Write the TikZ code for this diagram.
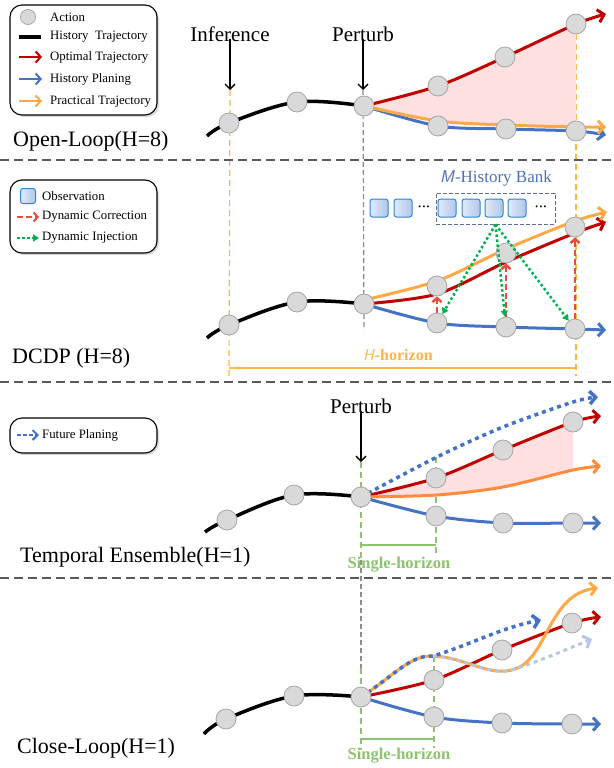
\documentclass[tikz,border=0pt]{standalone}
\usepackage{fontspec}
\setmainfont{Liberation Serif}
\usetikzlibrary{arrows.meta, shadows, backgrounds}

\definecolor{trred}{RGB}{192,0,0}
\definecolor{trblue}{RGB}{68,114,196}
\definecolor{trorange}{RGB}{255,168,70}
\definecolor{teorange}{RGB}{255,140,60}
\definecolor{hzorange}{RGB}{255,180,70}
\definecolor{corred}{RGB}{232,76,61}
\definecolor{injgreen}{RGB}{0,176,80}
\definecolor{hzgreen}{RGB}{140,195,110}
\definecolor{actgray}{RGB}{217,217,217}
\definecolor{bankblue}{RGB}{74,114,184}
\definecolor{bankedge}{RGB}{90,110,150}
\definecolor{obsedge}{RGB}{46,134,204}
\definecolor{obslight}{RGB}{225,234,248}
\definecolor{obsdark}{RGB}{176,198,234}
\definecolor{pinkfill}{RGB}{255,224,224}

\begin{document}
\begin{tikzpicture}[x=1pt, y=-1pt,
 act/.style={circle, fill=actgray, draw=black!35, line width=.8pt, minimum size=20pt, inner sep=0pt},
 lbox/.style={draw=black, line width=1.1pt, rounded corners=12pt, fill=white, drop shadow={shadow xshift=2pt, shadow yshift=-2pt, opacity=.3}},
 endtip/.style={-{Straight Barb[length=6pt,width=13pt]}},
 hist/.style={line width=3.5pt, black},
 opt/.style={line width=3pt, trred, endtip},
 plan/.style={line width=3pt, trblue, endtip},
 prac/.style={line width=3pt, trorange, endtip},
 fut/.style={line width=3.5pt, trblue, dash pattern=on 4pt off 4pt, endtip},
 corr/.style={line width=2.5pt, corred, dash pattern=on 6pt off 3pt, -{Straight Barb[length=4pt,width=9pt]}},
 inj/.style={line width=2.5pt, injgreen, dash pattern=on 2.5pt off 2.5pt, -{Triangle[length=6pt,width=7pt]}},
 obs/.style={draw=obsedge, line width=1pt, rounded corners=2.5pt, left color=obslight, right color=obsdark, minimum size=18pt, inner sep=0pt},
 panelsep/.style={draw=black!65, line width=1.5pt, dash pattern=on 9pt off 5pt},
 vline/.style={hzorange, line width=1.2pt, dash pattern=on 6pt off 4pt},
 gline/.style={hzgreen, line width=1.2pt, dash pattern=on 6pt off 4pt},
 pline/.style={black!45, line width=1.2pt, dash pattern=on 5pt off 3pt},
 paneltitle/.style={font=\fontsize{22}{24}\selectfont, inner sep=0pt},
 marktext/.style={font=\fontsize{21}{24}\selectfont, inner sep=0pt},
 legtext/.style={font=\fontsize{12.8}{14}\selectfont, anchor=west, inner sep=0pt},
 bankdots/.style={font=\fontsize{8}{8}\selectfont, inner sep=0pt},
 downarrow/.style={-{Straight Barb[length=5pt,width=10pt]}, line width=1.3pt}
]

\useasboundingbox (0,0) rectangle (613,768);

\draw[panelsep] (0,160) -- (613,160);
\draw[panelsep] (0,382) -- (613,382);
\draw[panelsep] (0,578) -- (613,578);

\node[lbox, minimum width=147pt, minimum height=110pt] (leg1) at (83.5,60) {};
\node[act, minimum size=15pt] (la) at (28,17) {};
\node[legtext] (lat) at (50,17) {Action};
\coordinate (lh0) at (19,37); \coordinate (lh1) at (41,37);
\draw[black, line width=4pt] (lh0) -- (lh1);
\node[legtext] (lht) at (50,37) {History\ \ Trajectory};
\coordinate (lo0) at (19,57); \coordinate (lo1) at (42,57);
\draw[trred, line width=2pt, -{Straight Barb[length=5pt,width=11pt]}] (lo0) -- (lo1);
\node[legtext] (lot) at (50,57) {Optimal Trajectory};
\coordinate (lp0) at (19,79); \coordinate (lp1) at (42,79);
\draw[trblue, line width=2pt, -{Straight Barb[length=5pt,width=11pt]}] (lp0) -- (lp1);
\node[legtext] (lpt) at (50,79) {History Planing};
\coordinate (lr0) at (19,101); \coordinate (lr1) at (42,101);
\draw[trorange, line width=2pt, -{Straight Barb[length=5pt,width=11pt]}] (lr0) -- (lr1);
\node[legtext] (lrt) at (50,101) {Practical Trajectory};

\node[marktext] (inf) at (230,34) {Inference};
\coordinate (infend) at (230,90);
\draw[downarrow] (inf.south) ++(0,-3) -- (infend);
\node[marktext] (pert1) at (363,34) {Perturb};
\coordinate (pert1end) at (363,90);
\draw[downarrow] (pert1.south) ++(0,-3) -- (pert1end);
\node[paneltitle, anchor=west] (t1) at (13,141) {Open-Loop(H=8)};

\node[act] (a1) at (229,123) {};
\node[act] (a2) at (297,102) {};
\node[act] (a3) at (364,106) {};
\node[act] (r1) at (438,86) {};
\node[act] (r2) at (505,57) {};
\node[act] (r3) at (576,24) {};
\node[act] (b1) at (438,126) {};
\node[act] (b2) at (506,129) {};
\node[act] (b3) at (576,131) {};
\coordinate (s1) at (207,136);

\begin{scope}[on background layer]
\draw[vline] (infend) -- (229,376);
\draw[vline] (r3) -- (576,376);
\draw[pline] (pert1end) -- (364,330);
\fill[pinkfill] plot[smooth] coordinates {(a3.center) (r1.center) (r2.center) (r3.center)} -- (576,127) -- plot[smooth] coordinates {(506,126) (438,122) (a3.center)} -- cycle;
\draw[hist] plot[smooth, tension=.6] coordinates {(s1) (a1.center) (a2.center) (a3.center)};
\draw[opt] plot[smooth] coordinates {(a3.center) (r1.center) (r2.center) (r3.center) (606,14)};
\draw[plan] plot[smooth] coordinates {(a3.center) (b1.center) (b2.center) (b3.center) (606,135)};
\draw[prac] plot[smooth] coordinates {(a3.center) (438,121) (506,125) (576,127) (606,127)};
\end{scope}

\node[lbox, minimum width=147pt, minimum height=73pt] (leg2) at (83.5,216.5) {};
\node[obs, minimum size=15pt] (lobs) at (28,196) {};
\node[legtext] (lobst) at (42,196) {Observation};
\coordinate (lc0) at (17,217); \coordinate (lc1) at (39,217);
\draw[corr, line width=2pt] (lc0) -- (lc1);
\node[legtext] (lct) at (42,217) {Dynamic Correction};
\coordinate (li0) at (17,238); \coordinate (li1) at (39,238);
\draw[inj, line width=2pt] (li0) -- (li1);
\node[legtext] (lit) at (42,238) {Dynamic Injection};

\node[obs] (o1) at (379,208) {};
\node[obs] (o2) at (403,208) {};
\node[bankdots] (dots1) at (424,208) {\textbullet\,\textbullet\,\textbullet};
\node[obs] (o3) at (447,208) {};
\node[obs] (o4) at (471,208) {};
\node[obs] (o5) at (494,208) {};
\node[obs] (o6) at (517,208) {};
\node[bankdots] (dots2) at (541,208) {\textbullet\,\textbullet\,\textbullet};
\node[draw=bankedge, line width=1pt, dash pattern=on 4pt off 2pt, minimum width=119pt, minimum height=31pt] (bank) at (495.5,208.5) {};
\node[text=bankblue, font=\fontsize{17}{18}\selectfont] (bankt) at (496,178) {\textsf{\textit{M}}-History Bank};

\node[act] (c1) at (229,325) {};
\node[act] (c2) at (297,302) {};
\node[act] (c3) at (364,304) {};
\node[act] (u1) at (437,286) {};
\node[act] (u2) at (506,253) {};
\node[act] (u3) at (575,227) {};
\node[act] (l1) at (437,323) {};
\node[act] (l2) at (506,327) {};
\node[act] (l3) at (575,329) {};
\coordinate (s2) at (207,338);

\begin{scope}[on background layer]
\draw[hist] plot[smooth, tension=.6] coordinates {(s2) (c1.center) (c2.center) (c3.center)};
\draw[opt] plot[smooth] coordinates {(c3.center) (437,294) (506,262) (575,233) (606,222)};
\draw[prac] plot[smooth] coordinates {(364,300) (437,281) (506,249) (575,221) (607,212)};
\draw[plan] plot[smooth] coordinates {(c3.center) (l1.center) (l2.center) (l3.center) (606,330)};
\end{scope}

\draw[corr] (l1) -- (u1);
\draw[corr] (l2) -- (u2);
\draw[corr] (l3) -- (u3);
\draw[inj] (bank.south) -- (l1);
\draw[inj] (bank.south) -- (l2);
\draw[inj] (bank.south) -- (l3);

\coordinate (hzl) at (229,368); \coordinate (hzr) at (576,368);
\draw[hzorange, line width=1.2pt] (hzl) -- (hzr);
\node[text=hzorange, font=\fontsize{16}{18}\selectfont] (hz) at (398,355) {\textsf{\textit{H}}\textbf{-horizon}};
\node[paneltitle, anchor=west] (t2) at (12,358) {DCDP (H=8)};

\node[lbox, minimum width=147pt, minimum height=35pt] (leg3) at (83.5,435.5) {};
\coordinate (lf0) at (17,435); \coordinate (lf1) at (39,435);
\draw[trblue, line width=2pt, dash pattern=on 4pt off 2pt, -{Straight Barb[length=5pt,width=10pt]}] (lf0) -- (lf1);
\node[legtext] (lft) at (42,435) {Future Planing};

\node[marktext] (pert3) at (361,406) {Perturb};
\coordinate (pert3end) at (361,462);
\draw[downarrow] (pert3.south) ++(0,-3) -- (pert3end);

\node[act] (d1) at (227,520) {};
\node[act] (d2) at (294,495) {};
\node[act] (d3) at (361,497) {};
\node[act] (v1) at (436,478) {};
\node[act] (v2) at (503,450) {};
\node[act] (v3) at (573,422) {};
\node[act] (w1) at (436,516) {};
\node[act] (w2) at (503,523) {};
\node[act] (w3) at (573,523) {};
\coordinate (s3) at (205,532);

\begin{scope}[on background layer]
\draw[gline] (pert3end) -- (361,560);
\draw[gline] (436,457) -- (436,557);
\draw[pline] (361,560) -- (361,668);
\fill[pinkfill] plot[smooth] coordinates {(d3.center) (v1.center) (v2.center) (v3.center)} -- (573,470) -- plot[smooth] coordinates {(503,487) (437,495) (d3.center)} -- cycle;
\draw[hist] plot[smooth, tension=.6] coordinates {(s3) (d1.center) (d2.center) (d3.center)};
\draw[opt] plot[smooth] coordinates {(d3.center) (v1.center) (v2.center) (v3.center) (601,416)};
\draw[prac, teorange] plot[smooth] coordinates {(d3.center) (437,495) (503,487) (573,470) (601,466)};
\draw[plan] plot[smooth] coordinates {(d3.center) (w1.center) (w2.center) (w3.center) (601,523)};
\draw[fut] plot[smooth] coordinates {(d3.center) (437,457) (503,427) (573,402) (598,397)};
\end{scope}

\coordinate (sh3l) at (361,545); \coordinate (sh3r) at (436,545);
\draw[hzgreen, line width=1.2pt] (sh3l) -- (sh3r);
\node[text=hzgreen, font=\fontsize{16.5}{18}\bfseries] (sh3) at (399,565) {Single-horizon};
\node[paneltitle, anchor=west] (t3) at (20,557) {Temporal Ensemble(H=1)};

\node[act] (f1) at (226,719) {};
\node[act] (f2) at (294,696) {};
\node[act] (f3) at (361,697) {};
\node[act] (g1) at (434,680) {};
\node[act] (g2) at (502,650) {};
\node[act] (g3) at (572,623) {};
\node[act] (h1) at (434,717) {};
\node[act] (h2) at (502,723) {};
\node[act] (h3) at (572,724) {};
\coordinate (s4) at (204,734);
\coordinate (m4) at (433,656);
\coordinate (k4) at (515,669);

\begin{scope}[on background layer]
\draw[gline] (361,668) -- (361,750);
\draw[gline] (434,656) -- (434,748);
\draw[hist] plot[smooth, tension=.6] coordinates {(s4) (f1.center) (f2.center) (f3.center)};
\draw[opt] plot[smooth] coordinates {(f3.center) (g1.center) (g2.center) (g3.center) (601,617)};
\draw[plan] plot[smooth] coordinates {(f3.center) (h1.center) (h2.center) (h3.center) (601,724)};
\draw[prac] (f3.center) .. controls (395,675) and (410,655) .. (m4) .. controls (465,657) and (490,678) .. (k4) .. controls (548,658) and (548,594) .. (598,588);
\draw[line width=3pt, trblue!40, dash pattern=on 4pt off 4pt, endtip] (m4) .. controls (465,657) and (490,678) .. (k4) .. controls (542,660) and (565,650) .. (592,639);
\draw[fut] (f3.center) .. controls (395,675) and (410,655) .. (m4) .. controls (470,645) and (500,628) .. (541,620);
\end{scope}

\coordinate (sh4l) at (361,739); \coordinate (sh4r) at (434,739);
\draw[hzgreen, line width=1.2pt] (sh4l) -- (sh4r);
\node[text=hzgreen, font=\fontsize{16.5}{18}\bfseries] (sh4) at (399,756) {Single-horizon};
\node[paneltitle, anchor=west] (t4) at (17,748) {Close-Loop(H=1)};

\end{tikzpicture}
\end{document}
